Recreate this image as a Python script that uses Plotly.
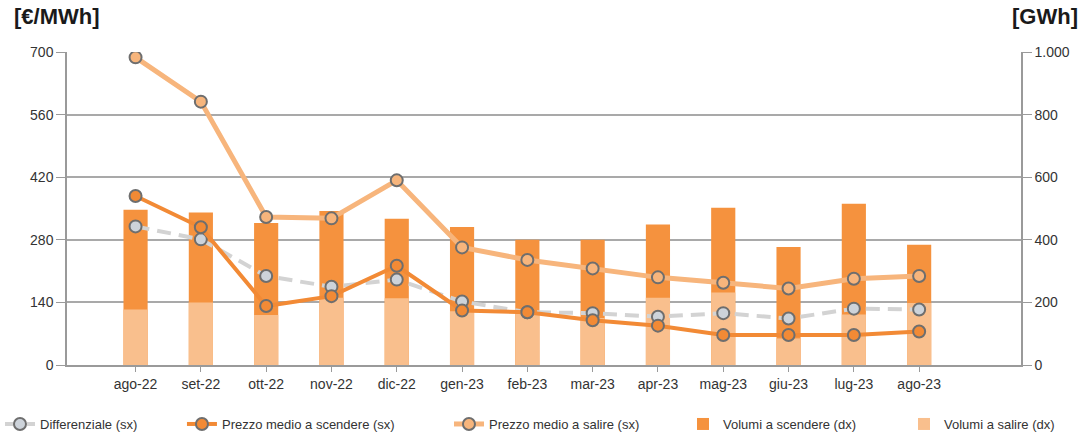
import plotly.graph_objects as go

mesi = ["ago-22", "set-22", "ott-22", "nov-22", "dic-22", "gen-23", "feb-23",
        "mar-23", "apr-23", "mag-23", "giu-23", "lug-23", "ago-23"]

# Prezzi medi [€/MWh] (asse sinistro)
differenziale = [310, 281, 199, 175, 191, 142, 118, 116, 108, 116, 104, 126, 124]
prezzo_scendere = [378, 308, 132, 154, 222, 122, 118, 100, 88, 67, 67, 67, 75]
prezzo_salire = [688, 589, 331, 328, 413, 263, 235, 216, 196, 184, 171, 193, 199]

# Volumi [GWh] (asse destro)
volumi_scendere = [496, 487, 454, 492, 467, 441, 400, 400, 449, 502, 377, 515, 384]
volumi_salire = [177, 200, 160, 215, 213, 172, 170, 150, 215, 232, 85, 161, 198]

tick_sx = [0, 140, 280, 420, 560, 700]
tick_dx = [0, 200, 400, 600, 800, 1000]

C_SCURO = "#F5923E"
C_CHIARO = "#F9BF8D"
C_LINEA_SALIRE = "#F7B57C"
C_LINEA_SCENDERE = "#F28A35"
C_DIFF = "#D3D3D3"
C_BORDO = "#6E6E6E"
GRIGIO = "#9A9A9A"
FONT = "Liberation Sans, Arial, sans-serif"

fig = go.Figure()

# Volumi sull'asse primario (destra), così le linee dei prezzi restano sopra
fig.add_trace(go.Bar(
    x=mesi, y=volumi_scendere, name="Volumi a scendere (dx)", yaxis="y",
    marker=dict(color=C_SCURO, line=dict(width=0)), width=0.37, legend="legend4",
))
fig.add_trace(go.Bar(
    x=mesi, y=volumi_salire, name="Volumi a salire (dx)", yaxis="y",
    marker=dict(color=C_CHIARO, line=dict(width=0)), width=0.37, legend="legend5",
))

fig.add_trace(go.Scatter(
    x=mesi, y=differenziale, name="Differenziale (sx)", mode="lines+markers",
    yaxis="y2",
    line=dict(color=C_DIFF, width=4, dash="14px,8px"),
    marker=dict(size=12, color="#CDD3DA", line=dict(color=C_BORDO, width=2)),
    legend="legend",
))
fig.add_trace(go.Scatter(
    x=mesi, y=prezzo_scendere, name="Prezzo medio a scendere (sx)", mode="lines+markers",
    yaxis="y2",
    line=dict(color=C_LINEA_SCENDERE, width=4),
    marker=dict(size=12, color=C_LINEA_SCENDERE, line=dict(color=C_BORDO, width=2)),
    legend="legend2",
))
fig.add_trace(go.Scatter(
    x=mesi, y=prezzo_salire, name="Prezzo medio a salire (sx)", mode="lines+markers",
    yaxis="y2",
    line=dict(color=C_LINEA_SALIRE, width=5),
    marker=dict(size=12, color=C_LINEA_SALIRE, line=dict(color=C_BORDO, width=2)),
    legend="legend3",
))

leg_common = dict(orientation="h", yanchor="middle", xanchor="left",
                  xref="container", yref="container",
                  font=dict(family=FONT, size=13, color="#333333"),
                  bgcolor="rgba(0,0,0,0)", itemwidth=30, tracegroupgap=0)
leg_y = 0.023
leg_x = [-0.004, 0.1677, 0.4138, 0.6295, 0.8332]

fig.update_layout(
    width=1085, height=434,
    margin=dict(l=67, r=64, t=52, b=69, autoexpand=False),
    paper_bgcolor="white", plot_bgcolor="white",
    barmode="overlay",
    separators=",.",
    showlegend=True,
    font=dict(family=FONT, size=14, color="#333333"),
    xaxis=dict(
        type="category", range=[-1.05, 13.56],
        showline=True, linecolor=GRIGIO, linewidth=1.5,
        ticks="outside", ticklen=5, tickcolor=GRIGIO,
        showgrid=False, tickfont=dict(size=14, color="#333333"),
    ),
    yaxis=dict(
        range=[0, 1000], tickvals=tick_dx, side="right",
        showline=True, linecolor=GRIGIO, linewidth=1.5,
        ticks="outside", ticklen=9, tickcolor=GRIGIO,
        showgrid=True, gridcolor="#A9A9A9", gridwidth=1.5,
        zeroline=False, separatethousands=True,
        tickfont=dict(size=14, color="#333333"),
    ),
    yaxis2=dict(
        range=[0, 700], tickvals=tick_sx, overlaying="y", side="left",
        showline=True, linecolor=GRIGIO, linewidth=1.5,
        ticks="outside", ticklen=9, tickcolor=GRIGIO,
        showgrid=False, zeroline=False,
        tickfont=dict(size=14, color="#333333"),
    ),
    legend=dict(x=leg_x[0], y=leg_y, **leg_common),
    legend2=dict(x=leg_x[1], y=leg_y, **leg_common),
    legend3=dict(x=leg_x[2], y=leg_y, **leg_common),
    legend4=dict(x=leg_x[3], y=leg_y, **leg_common),
    legend5=dict(x=leg_x[4], y=leg_y, **leg_common),
    annotations=[
        dict(text="<b>[€/MWh]</b>", xref="paper", yref="paper",
             x=-0.0577, y=1.0, xanchor="left", yanchor="bottom", yshift=21,
             showarrow=False, font=dict(family=FONT, size=22, color="#1A1A1A")),
        dict(text="<b>[GWh]</b>", xref="paper", yref="paper",
             x=1.0618, y=1.0, xanchor="right", yanchor="bottom", yshift=21,
             showarrow=False, font=dict(family=FONT, size=22, color="#1A1A1A")),
    ],
)

fig.write_html("out.html")
